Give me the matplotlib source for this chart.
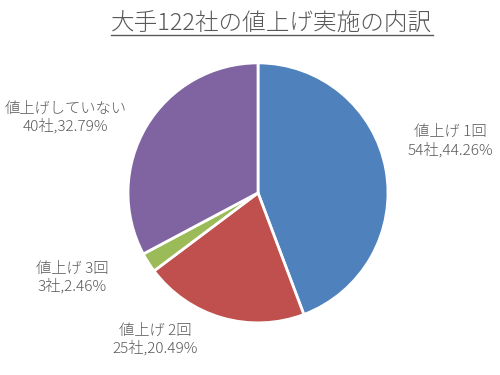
import matplotlib

matplotlib.use("Agg")

import matplotlib.pyplot as plt

plt.rcParams["font.family"] = ["Noto Sans CJK JP", "DejaVu Sans"]

TITLE = "大手122社の値上げ実施の内訳"
categories = ["値上げ 1回", "値上げ 2回", "値上げ 3回", "値上げしていない"]
counts = [54, 25, 3, 40]
percents = ["44.26%", "20.49%", "2.46%", "32.79%"]
colors = ["#4f81bd", "#c0504d", "#9bbb59", "#8064a2"]

# label centres in pie-radius units
label_pos = [(1.48, 0.40), (-0.79, -1.13), (-1.43, -0.65), (-1.48, 0.58)]


def main() -> None:
    fig = plt.figure(figsize=(5.0, 3.75), dpi=100)
    fig.patch.set_facecolor("white")
    ax = fig.add_axes([0.256, 0.139, 0.52, 0.6933])

    ax.pie(
        counts,
        colors=colors,
        startangle=90,
        counterclock=False,
        radius=1.0,
        wedgeprops=dict(edgecolor="white", linewidth=2),
    )
    ax.set_xlim(-1, 1)
    ax.set_ylim(-1, 1)
    ax.set_aspect("equal")
    ax.axis("off")

    for cat, n, pct, (x, y) in zip(categories, counts, percents, label_pos):
        ax.text(
            x, y, f"{cat}\n{n}社,{pct}",
            ha="center", va="center", fontsize=11, color="#595959",
            fontweight="light", linespacing=1.2, clip_on=False,
        )

    t = fig.text(0.544, 0.937, TITLE, ha="center", va="center",
                 fontsize=17, color="#595959", fontweight="light")
    # underline the title
    fig.canvas.draw()
    bb = t.get_window_extent().transformed(fig.transFigure.inverted())
    fig.add_artist(plt.Line2D([bb.x0, bb.x1], [bb.y0 + 0.004, bb.y0 + 0.004],
                              color="#595959", linewidth=1.0,
                              transform=fig.transFigure))

    fig.savefig("out.png", dpi=100)
    plt.close(fig)


if __name__ == "__main__":
    main()
